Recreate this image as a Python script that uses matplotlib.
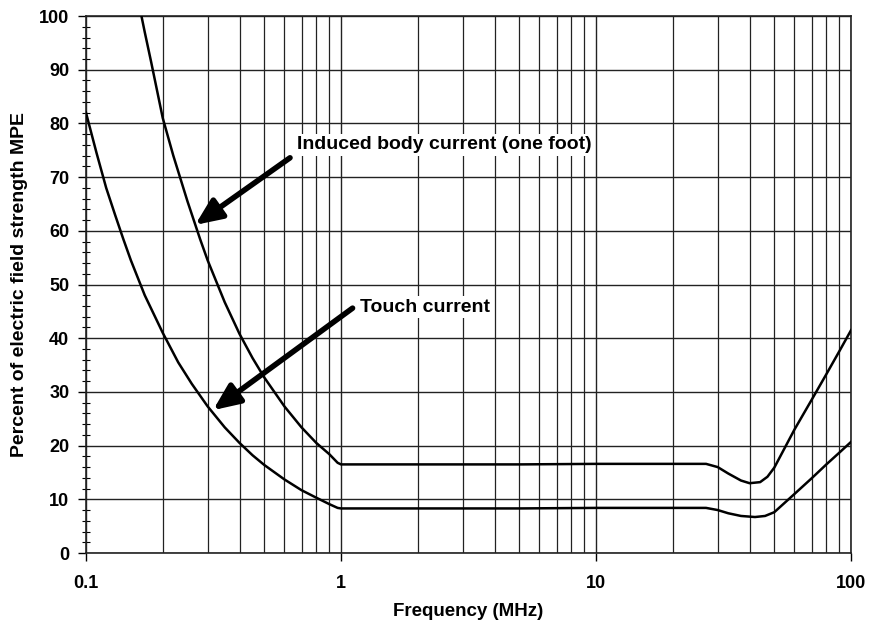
import matplotlib
matplotlib.use("Agg")
import matplotlib.pyplot as plt
from matplotlib.ticker import LogLocator, MultipleLocator, FixedLocator, NullFormatter

plt.rcParams['font.family'] = ['Liberation Sans', 'DejaVu Sans']
plt.rcParams['font.weight'] = 'bold'

# Touch current curve
touch_freq = [0.1, 0.11, 0.12, 0.13, 0.14, 0.15, 0.17, 0.2, 0.23, 0.26, 0.3, 0.35, 0.4, 0.45,
              0.5, 0.6, 0.7, 0.8, 0.9, 0.97, 1.0, 5, 10, 20, 27, 30, 33, 37, 42, 46, 50,
              60, 70, 80, 90, 100]
touch_pct = [82, 74.5, 68, 63, 58.5, 54.5, 48, 41, 35.5, 31.5, 27.3, 23.4, 20.5, 18.2,
             16.4, 13.7, 11.7, 10.3, 9.1, 8.4, 8.3, 8.3, 8.4, 8.4, 8.4, 8.0, 7.4, 6.9, 6.7, 6.9, 7.6,
             11.0, 13.9, 16.5, 18.7, 20.7]

# Induced body current (one foot) curve
induced_freq = [0.165, 0.17, 0.18, 0.2, 0.22, 0.25, 0.28, 0.3, 0.35, 0.4, 0.45, 0.5, 0.6,
                0.7, 0.8, 0.9, 0.97, 1.0, 5, 10, 20, 27, 30, 33, 37, 40, 44, 47, 50,
                60, 70, 80, 90, 100]
induced_pct = [100, 97, 91.5, 81, 74, 65.5, 58.5, 54.5, 46.7, 40.8, 36.3, 32.7, 27.3,
               23.4, 20.5, 18.4, 16.8, 16.5, 16.5, 16.6, 16.6, 16.6, 16.0, 14.8, 13.5, 13.0, 13.2, 14.2, 15.9,
               23.0, 28.5, 33.3, 37.6, 41.5]

x_ticks = [0.1, 1, 10, 100]
x_labels = ['0.1', '1', '10', '100']
y_ticks = list(range(0, 101, 10))

fig = plt.figure(figsize=(8.72, 6.31), dpi=100)
ax = fig.add_axes([0.0986, 0.1236, 0.8774, 0.851])

ax.plot(touch_freq, touch_pct, color='black', lw=1.8, zorder=3, clip_on=True)
ax.plot(induced_freq, induced_pct, color='black', lw=1.8, zorder=3, clip_on=True)

ax.set_xscale('log')
ax.set_xlim(0.1, 100)
ax.set_ylim(0, 100)

ax.xaxis.set_major_locator(FixedLocator(x_ticks))
ax.set_xticklabels(x_labels)
ax.xaxis.set_minor_locator(LogLocator(base=10, subs=range(2, 10)))
ax.xaxis.set_minor_formatter(NullFormatter())
ax.set_yticks(y_ticks)
ax.yaxis.set_minor_locator(MultipleLocator(2))

ax.grid(True, which='major', axis='both', color='#222222', lw=1.0)
ax.grid(True, which='minor', axis='x', color='#222222', lw=0.9)

ax.tick_params(axis='both', which='major', direction='out', length=6, width=1, labelsize=13)
ax.tick_params(axis='x', which='major', pad=10)
ax.tick_params(axis='y', which='major', pad=6)
ax.tick_params(axis='x', which='minor', length=0)
ax.tick_params(axis='y', which='minor', direction='inout', length=6, width=0.8)
for lab in ax.get_xticklabels() + ax.get_yticklabels():
    lab.set_fontweight('bold')

for sp in ax.spines.values():
    sp.set_color('#222222')
    sp.set_linewidth(1.2)

ax.set_xlabel('Frequency (MHz)', fontsize=13.5, fontweight='bold', labelpad=8)
ax.set_ylabel('Percent of electric field strength MPE', fontsize=14, fontweight='bold', labelpad=8)

arrow_kw = dict(arrowstyle='-|>,head_length=0.8,head_width=0.35', color='black', lw=4,
                mutation_scale=20, shrinkA=0, shrinkB=0)
ax.annotate('', xy=(0.268, 61.1), xytext=(0.631, 73.6), arrowprops=arrow_kw, zorder=4)
ax.text(0.672, 76.0, 'Induced body current (one foot)', fontsize=14, fontweight='bold',
        va='center', ha='left', zorder=5,
        bbox=dict(facecolor='white', edgecolor='none', pad=2))
ax.annotate('', xy=(0.315, 26.6), xytext=(1.11, 45.6), arrowprops=arrow_kw, zorder=4)
ax.text(1.187, 45.8, 'Touch current', fontsize=14, fontweight='bold',
        va='center', ha='left', zorder=5,
        bbox=dict(facecolor='white', edgecolor='none', pad=2))

fig.savefig('out.png', dpi=100)
